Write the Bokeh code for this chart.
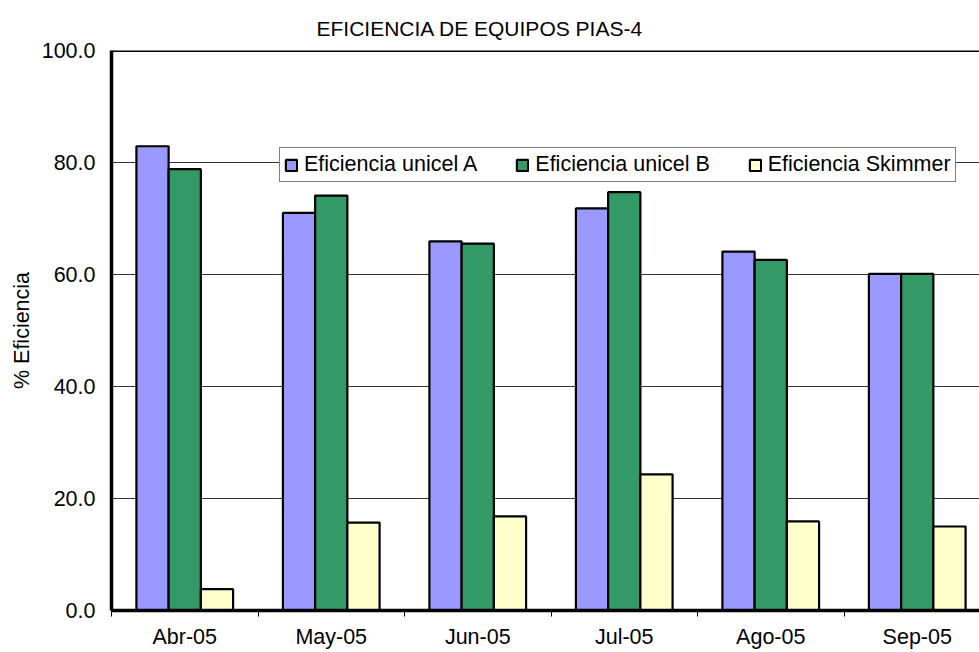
import numpy as np
from bokeh.plotting import figure
from bokeh.models import ColumnDataSource, Range1d, FixedTicker, Span, PrintfTickFormatter
from bokeh.transform import dodge
from bokeh.embed import file_html
from bokeh.resources import INLINE

# ---- data ----
months = ["Abr-05", "May-05", "Jun-05", "Jul-05", "Ago-05", "Sep-05"]
unicel_a = [82.9, 71.0, 65.9, 71.8, 64.1, 60.1]
unicel_b = [78.8, 74.1, 65.5, 74.7, 62.6, 60.1]
skimmer = [3.8, 15.7, 16.8, 24.3, 15.9, 15.0]
y_ticks = [0, 20, 40, 60, 80, 100]
series_names = ["Eficiencia unicel A", "Eficiencia unicel B", "Eficiencia Skimmer"]

FONT = "Liberation Sans"
FS = "21.5px"

n = len(months)
centers = list(np.arange(n) + 0.5)
src = ColumnDataSource(dict(x=centers, a=unicel_a, b=unicel_b, s=skimmer))

# visible part of the category axis (chart is cut at the right edge)
x_end = (979 - 111) / 146.5

p = figure(width=979, height=652, x_range=Range1d(0, x_end), y_range=Range1d(0, 100),
           output_backend="svg", toolbar_location=None,
           min_border_left=111, min_border_right=0, min_border_top=50, min_border_bottom=42)

p.outline_line_color = None
p.background_fill_color = "white"
p.border_fill_color = "white"

bw = 0.22
colors = ["#9999FF", "#339966", "#FFFFCC"]
for off, col, c, name in zip([-bw, 0, bw], ["a", "b", "s"], colors, series_names):
    p.vbar(x=dodge("x", off, range=p.x_range), top=col, width=bw, source=src,
           fill_color=c, line_color="black", line_width=2.2, legend_label=name)

# top border of plot area
p.add_layout(Span(location=100, dimension="width", line_color="black", line_width=3))

# x axis
p.xaxis.ticker = FixedTicker(ticks=centers, minor_ticks=list(range(n + 1)))
p.xaxis.major_label_overrides = {float(c): m for c, m in zip(centers, months)}
p.xaxis.major_tick_out = 0
p.xaxis.major_tick_in = 0
p.xaxis.minor_tick_out = 6
p.xaxis.minor_tick_in = 0
p.xaxis.minor_tick_line_color = "black"
p.xaxis.axis_line_width = 3.5
p.xaxis.axis_line_color = "black"
p.xaxis.major_label_text_font = FONT
p.xaxis.major_label_text_font_size = FS
p.xaxis.major_label_text_color = "black"
p.xaxis.major_label_standoff = 8

# y axis
p.yaxis.ticker = FixedTicker(ticks=y_ticks, minor_ticks=[])
p.yaxis.formatter = PrintfTickFormatter(format="%.1f")
p.yaxis.major_tick_out = 0
p.yaxis.major_tick_in = 0
p.yaxis.minor_tick_out = 0
p.yaxis.minor_tick_in = 0
p.yaxis.axis_line_width = 3.5
p.yaxis.axis_line_color = "black"
p.yaxis.major_label_text_font = FONT
p.yaxis.major_label_text_font_size = FS
p.yaxis.major_label_text_color = "black"
p.yaxis.major_label_standoff = 16
p.yaxis.axis_label = "% Eficiencia"
p.yaxis.axis_label_text_font = FONT
p.yaxis.axis_label_text_font_size = FS
p.yaxis.axis_label_text_font_style = "normal"
p.yaxis.axis_label_text_color = "black"
p.yaxis.axis_label_standoff = 5

# grid
p.xgrid.visible = False
p.ygrid.grid_line_color = "#333333"
p.ygrid.grid_line_width = 1

# title
p.title.text = "EFICIENCIA DE EQUIPOS PIAS-4"
p.title.text_font = FONT
p.title.text_font_size = "21px"
p.title.text_font_style = "normal"
p.title.text_color = "black"
p.title.align = "left"
p.title.offset = 205
p.title.standoff = 21

# legend
lg = p.legend[0]
lg.orientation = "horizontal"
lg.location = (168, 428)
lg.border_line_color = "black"
lg.border_line_width = 1
lg.background_fill_color = "white"
lg.background_fill_alpha = 1
lg.label_text_font = FONT
lg.label_text_font_size = FS
lg.label_text_color = "black"
lg.glyph_width = 14
lg.glyph_height = 14
lg.label_standoff = 6
lg.spacing = 38
lg.padding = 4
lg.margin = 0

open("out.html", "w").write(file_html(p, INLINE))
